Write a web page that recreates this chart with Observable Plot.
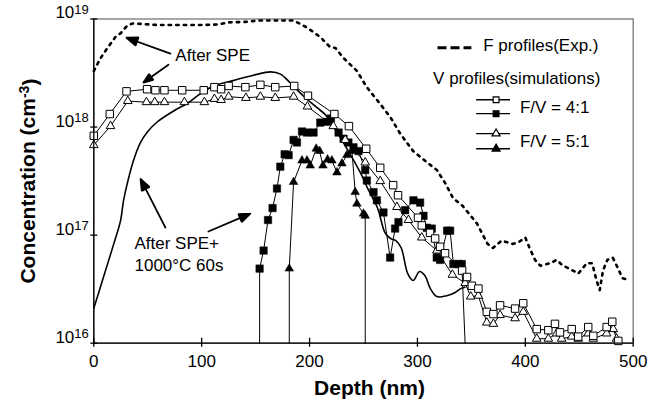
<!DOCTYPE html>
<html><head><meta charset="utf-8">
<script src="https://cdn.jsdelivr.net/npm/d3@7"></script>
<script src="https://cdn.jsdelivr.net/npm/@observablehq/plot@0.6"></script>
<style>body{margin:0;background:#fff}#chart svg{display:block}</style>
</head><body><div id="chart"></div>
<script>
// ---- axes ----
const xTicks = [0, 100, 200, 300, 400, 500];
const yTicks = [1e16, 1e17, 1e18, 1e19];

// ---- F profile, experiment (after SPE) ----
const fExpDepth = [0,6,11,15.5,20,25,31,36,60,100,115,125,140,155,170,185,198,210,219,224,231,244,253,265,275,284,296,309,318,326,333,342,355,365,370,378,388,393,400,404,409,414,423,429,435,441,449,457,462,466,469,472,476,481,486,490,494];
const fExpConc = [3.3e18,4.3e18,5.1e18,5.9e18,6.8e18,7.4e18,8.7e18,9.1e18,8.8e18,8.8e18,8.9e18,9.3e18,9.4e18,9.7e18,9.7e18,9.7e18,8.3e18,6.8e18,5.5e18,5.4e18,4.4e18,3.3e18,2.34e18,1.66e18,1.23e18,8.7e17,6.0e17,4.7e17,4.0e17,3.0e17,2.2e17,1.86e17,1.29e17,8.3e16,7.6e16,8.9e16,8.3e16,8.5e16,9.5e16,7.6e16,5.9e16,5.2e16,5.5e16,5.9e16,5.2e16,4.9e16,4.4e16,5.5e16,5.5e16,3.8e16,3.1e16,4.7e16,5.9e16,6.2e16,4.9e16,4.0e16,3.9e16];

// ---- F profile after SPE + 1000°C 60s ----
const fAnnealDepth = [0,9,18.5,24.7,27.6,31,36.8,43,50,59,74,87,99,111,129,148,164,173,182,194,207,215,225,236,247,254,263,270,275,280,285,291,296,302,307,312,318,327,335,340,344];
const fAnnealConc = [2.1e16,4.1e16,8.3e16,1.35e17,2.1e17,3.0e17,4.9e17,7.1e17,9.1e17,1.12e18,1.41e18,1.66e18,2.04e18,2.4e18,2.69e18,3.02e18,3.24e18,3.09e18,2.57e18,1.95e18,1.51e18,1.29e18,9.1e17,6.0e17,3.8e17,2.69e17,1.78e17,1.05e17,9.3e16,8.9e16,7.6e16,4.4e16,3.8e16,4.6e16,4.2e16,3.2e16,2.7e16,2.75e16,2.95e16,3.2e16,3.3e16];

// ---- V profiles (simulations), F/V = 4:1 ----
const v41OpenDepth = [0,14.8,30.3,49.4,57.1,65.5,81.9,101.9,111.8,118,125,140.5,154.4,168.2,185.8,198.5,223,236.5,252.5,265.5,277.5,282,300.5,304,311.7,316.4,321,325.6,341.4,346,350.4,356.5,364.3,370.4,376.6,390.5,398.1,410.6,421.3,427.5,432.1,443,449,458.3,463,475.4,480.6,486.2];
const v41OpenConc = [8.3e17,1.32e18,2.14e18,2.24e18,2.19e18,2.19e18,2.19e18,2.19e18,2.34e18,2.24e18,2.4e18,2.34e18,2.46e18,2.34e18,2.4e18,1.95e18,1.32e18,1.02e18,6.3e17,4.2e17,2.9e17,2.34e17,1.45e17,1.23e17,1.05e17,9.3e16,7.8e16,6.8e16,4.7e16,4.1e16,3.4e16,3.2e16,1.95e16,1.86e16,2.24e16,2.09e16,2.34e16,1.35e16,1.32e16,1.51e16,1.26e16,1.35e16,1.15e16,1.41e16,1.17e16,1.41e16,1.58e16,1.05e16];
const v41FilledDepth = [153.7,157.4,161.5,165.7,169.8,172.9,176.9,180.6,185.2,188.3,193,197.6,203.7,209.9,216.1,219.8,226.9,231.5,236,240.7,245.4,251.6,253.1,259.3,262.4,268.5,274.7,279.3,282.4,288.6,296.3,302.5,305.6,308.7,313.3,317.9,321,327.5,330.3,333.3,338,341.1];
const v41FilledConc = [4.9e16,7.2e16,1.38e17,1.78e17,2.7e17,4.3e17,5.6e17,5.5e17,7.6e17,7.2e17,9.1e17,8.9e17,8.9e17,1.1e18,1.12e18,1.2e18,8.9e17,7.8e17,7.2e17,6.5e17,6.0e17,4.0e17,3.2e17,2.5e17,2.1e17,1.62e17,6.2e16,1.15e17,1.32e17,1.7e17,2.1e17,2.0e17,1.51e17,1.17e17,1.15e17,6.2e16,5.9e16,1.1e17,1.1e17,5.4e16,5.4e16,5.4e16];
const v41FilledEdges = [153.7, 344.2];   // depths where the profile falls below 1e16

// ---- V profiles (simulations), F/V = 5:1 ----
const v51OpenDepth = [0,15.5,31.5,48.8,56.5,65.5,84,102.5,111.8,118,125,141,154.4,168.2,185.2,198,222,233,251.6,265.5,281,291.7,304,318,332.4,344.2,349.4,356.5,364.3,370.4,376.6,390.5,398.1,410.6,421.3,429,433.7,443,449,458.3,463,475.4,481.5,484.6];
const v51OpenConc = [6.8e17,1.02e18,1.74e18,1.7e18,1.7e18,1.7e18,1.7e18,1.7e18,1.82e18,1.78e18,1.91e18,1.86e18,1.91e18,1.86e18,1.91e18,1.55e18,1.02e18,7.6e17,4.7e17,3.16e17,1.82e17,1.38e17,9.5e16,7.2e16,4.3e16,3.6e16,2.7e16,2.75e16,1.55e16,1.51e16,1.82e16,1.7e16,1.95e16,1.1e16,1.1e16,1.23e16,1.1e16,1.15e16,1.1e16,1.23e16,1.1e16,1.23e16,1.35e16,1.1e16];
const v51FilledDepth = [181.2,185.2,193,197.6,200.6,206.2,209.3,212.4,216.7,220.7,225.4,230,234.6,239.3,242.3,243.9,250,251.6];
const v51FilledConc = [4.9e16,3.1e17,4.9e17,4.9e17,4.4e17,6.3e17,6.0e17,4.4e17,5.0e17,4.9e17,3.8e17,4.6e17,5.5e17,6.0e17,2.5e17,1.95e17,1.58e17,1.51e17];
const v51FilledEdges = [181.2, 251.6];

// ---- texts ----
const legendTexts = ["F profiles(Exp.)", "V profiles(simulations)", "F/V = 4:1", "F/V = 5:1"];
const annotTexts = ["After SPE", "After SPE+", "1000°C 60s"];

// ---- layout of legend / annotations (in data units) ----
const legendLayout = {
  dashX: [318.6, 350], dashY: 5.43e18,
  textX: [361, 314.5, 395, 395], textY: [5.67e18, 2.81e18, 1.51e18, 7.3e17],
  symX: [354.4, 385.8], markX: 372.9, rowY: [1.79e18, 1.33e18, 8.7e17, 6.3e17]
};
const annotLayout = {
  textX: [75.6, 37.7, 37.7], textY: [4.58e18, 8.36e16, 5.24e16],
  arrows: [
    {x1: 71.0, y1: 4.78e18, x2: 30.3, y2: 6.71e18},
    {x1: 69.2, y1: 3.78e18, x2: 46.0, y2: 2.58e18},
    {x1: 66.4, y1: 1.175e17, x2: 43.3, y2: 3.31e17},
    {x1: 106.2, y1: 1.08e17, x2: 145.1, y2: 1.58e17}
  ]
};

const rows = (xs, ys) => xs.map((x, i) => ({x, y: ys[i]}));
const dropRows = (xs, ys, e) => [{x: e[0], y: yTicks[0]}, ...rows(xs, ys), {x: e[1], y: yTicks[0]}];

const fExp = rows(fExpDepth, fExpConc);
const fAnneal = rows(fAnnealDepth, fAnnealConc);
const v41Open = rows(v41OpenDepth, v41OpenConc);
const v51Open = rows(v51OpenDepth, v51OpenConc);
const v41Filled = rows(v41FilledDepth, v41FilledConc);
const v51Filled = rows(v51FilledDepth, v51FilledConc);
const v41FilledLine = dropRows(v41FilledDepth, v41FilledConc, v41FilledEdges);
const v51FilledLine = dropRows(v51FilledDepth, v51FilledConc, v51FilledEdges);

const SQ = 4.2, TR = 3.2;
const font = "Liberation Sans, Arial, Helvetica, sans-serif";

const legendRowsData = [
  {y: legendLayout.rowY[0], symbol: "square", fill: "white"},
  {y: legendLayout.rowY[1], symbol: "square", fill: "black"},
  {y: legendLayout.rowY[2], symbol: "triangle", fill: "white"},
  {y: legendLayout.rowY[3], symbol: "triangle", fill: "black"}
];

const chart = Plot.plot({
  width: 660, height: 403,
  marginLeft: 93.3, marginRight: 27.3, marginTop: 18.5, marginBottom: 60.3,
  style: {fontFamily: font, fontSize: "17px", background: "white", color: "black", overflow: "visible"},
  x: {domain: [xTicks[0], xTicks[xTicks.length - 1]], label: null},
  y: {type: "log", domain: [yTicks[0], yTicks[yTicks.length - 1]], label: null},
  marks: [
    Plot.frame({stroke: "#777", strokeWidth: 1.3}),
    // data lines
    Plot.line(fExp, {x: "x", y: "y", stroke: "black", strokeWidth: 2.6, strokeDasharray: "2.4,5.2"}),
    Plot.line(fAnneal, {x: "x", y: "y", stroke: "black", strokeWidth: 1.6, curve: "catmull-rom"}),
    Plot.line(v41FilledLine, {x: "x", y: "y", stroke: "black", strokeWidth: 1}),
    Plot.line(v51FilledLine, {x: "x", y: "y", stroke: "black", strokeWidth: 1}),
    Plot.line(v41Open, {x: "x", y: "y", stroke: "black", strokeWidth: 1}),
    Plot.line(v51Open, {x: "x", y: "y", stroke: "black", strokeWidth: 1}),
    Plot.dot(v41Filled, {x: "x", y: "y", symbol: "square", r: SQ, fill: "black", stroke: "black", strokeWidth: 0.5}),
    Plot.dot(v51Filled, {x: "x", y: "y", symbol: "triangle", r: TR, fill: "black", stroke: "black", strokeWidth: 0.5}),
    Plot.dot(v51Open, {x: "x", y: "y", symbol: "triangle", r: TR, fill: "white", stroke: "black", strokeWidth: 1}),
    Plot.dot(v41Open, {x: "x", y: "y", symbol: "square", r: SQ, fill: "white", stroke: "black", strokeWidth: 1}),
    // axes
    Plot.ruleX([xTicks[0]], {stroke: "black", strokeWidth: 1.3}),
    Plot.ruleY([yTicks[0]], {stroke: "black", strokeWidth: 1.3}),
    Plot.ruleX(xTicks, {x: d => d, y1: yTicks[0], y2: yTicks[0], insetTop: -5, insetBottom: -4, stroke: "black", strokeWidth: 1.3}),
    Plot.ruleY(yTicks, {y: d => d, x1: xTicks[0], x2: xTicks[0], insetLeft: -3, insetRight: -4, stroke: "black", strokeWidth: 1.3}),
    Plot.axisX(xTicks, {tickSize: 0, tickPadding: 12, fontSize: 17, label: null}),
    Plot.axisY(yTicks, {tickSize: 0, tickPadding: 5, dy: -6, fontSize: 17, label: null, tickFormat: d => "10^" + Math.round(Math.log10(d))}),
    Plot.text(["Depth (nm)"], {frameAnchor: "bottom", dy: 52, dx: 6, textAnchor: "middle", lineAnchor: "bottom", fontSize: 21, fontWeight: "bold"}),
    Plot.text(["Concentration (cm-3)"], {frameAnchor: "left", dx: -59.3, rotate: -90, textAnchor: "middle", lineAnchor: "bottom", fontSize: 21, fontWeight: "bold"}),
    // legend
    Plot.link([legendLayout], {x1: d => d.dashX[0], x2: d => d.dashX[1], y1: d => d.dashY, y2: d => d.dashY, stroke: "black", strokeWidth: 3, strokeDasharray: "9,4"}),
    Plot.text(legendTexts, {x: (d, i) => legendLayout.textX[i], y: (d, i) => legendLayout.textY[i], text: d => d, textAnchor: "start", fontSize: 17}),
    Plot.link(legendRowsData, {x1: legendLayout.symX[0], x2: legendLayout.symX[1], y1: "y", y2: "y", stroke: "black", strokeWidth: 1.3}),
    Plot.dot(legendRowsData, {x: legendLayout.markX, y: "y", symbol: "symbol", fill: "fill", stroke: "black", strokeWidth: 1.2, r: d => d.symbol === "square" ? SQ * 1.1 : TR * 1.2}),
    // annotations
    Plot.text(annotTexts, {x: (d, i) => annotLayout.textX[i], y: (d, i) => annotLayout.textY[i], text: d => d, textAnchor: "start", fontSize: 17}),
    Plot.arrow(annotLayout.arrows, {x1: "x1", y1: "y1", x2: "x2", y2: "y2", stroke: "black", strokeWidth: 1.8, headLength: 10, headAngle: 42})
  ]
});

// superscripts for exponent labels
d3.select(chart).selectAll("text").each(function () {
  const t = d3.select(this);
  const s = t.text();
  if (/^10\^\d+$/.test(s)) {
    const e = s.split("^")[1];
    t.text("10");
    t.append("tspan").attr("dy", "-0.38em").attr("font-size", 13).text(e);
  } else if (s === "Concentration (cm-3)") {
    t.text("Concentration (cm");
    t.append("tspan").attr("dy", "-0.42em").attr("font-size", 14).text("-3");
    t.append("tspan").attr("dy", "0.42em").text(")");
  }
});

// filled arrow heads: close the head sub-path of each arrow
d3.select(chart).selectAll('g[aria-label="arrow"] path').each(function () {
  const p = d3.select(this);
  p.attr("d", p.attr("d") + "Z").attr("fill", "black").attr("stroke-linejoin", "miter");
});

document.getElementById("chart").appendChild(chart);
</script>
</body></html>
